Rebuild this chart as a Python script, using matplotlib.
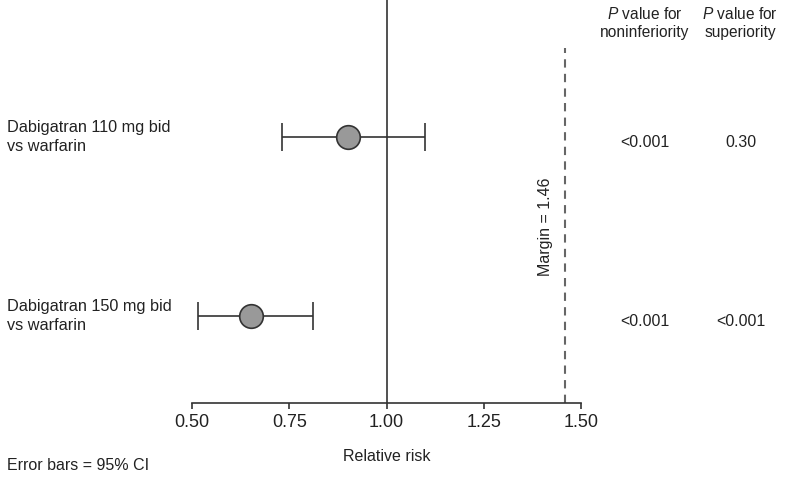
import matplotlib.pyplot as plt
from matplotlib.transforms import blended_transform_factory

plt.rcParams['font.family'] = ['Liberation Sans', 'DejaVu Sans']
plt.rcParams['mathtext.fontset'] = 'custom'
plt.rcParams['mathtext.it'] = 'Liberation Sans:italic'
plt.rcParams['mathtext.rm'] = 'Liberation Sans'
plt.rcParams['text.color'] = '#222222'
plt.rcParams['xtick.color'] = '#222222'
plt.rcParams['axes.labelcolor'] = '#222222'

# Data
labels = ["Dabigatran 110 mg bid\nvs warfarin", "Dabigatran 150 mg bid\nvs warfarin"]
rr = [0.90, 0.65]
ci_low = [0.73, 0.514]
ci_high = [1.10, 0.81]
p_noninf = ["<0.001", "<0.001"]
p_sup = ["0.30", "<0.001"]
margin = 1.46
xticks = [0.50, 0.75, 1.00, 1.25, 1.50]
rows = [2, 1]

W, H = 786, 479
fig = plt.figure(figsize=(W / 100, H / 100), dpi=100)
ax = fig.add_axes([192.3 / W, 1 - 403 / H, (580.7 - 192.3) / W, 403 / H])
ax.set_xlim(0.5, 1.5)
ax.set_ylim(1 - 87 / 179, 1 + 316 / 179)

dark = '#333333'
for y, m, lo, hi in zip(rows, rr, ci_low, ci_high):
    ax.errorbar(m, y, xerr=[[m - lo], [hi - m]], fmt='none', ecolor=dark,
                elinewidth=1.2, capsize=10, capthick=1.2, zorder=2)
    ax.plot(m, y, 'o', ms=17, mfc='#999999', mec=dark, mew=1.2, zorder=3)

ax.axvline(1.0, color=dark, lw=1.2, zorder=1)
ax.plot([margin, margin], [ax.get_ylim()[0], 1 + 268 / 179], color='#666666',
        lw=1.5, dashes=(4, 3))
ax.text(margin - 0.05, 1 + 89 / 179, "Margin = 1.46", rotation=90,
        ha='center', va='center', fontsize=11.5)

for s in ['top', 'right', 'left']:
    ax.spines[s].set_visible(False)
ax.spines['bottom'].set_color(dark)
ax.spines['bottom'].set_linewidth(1.2)
ax.set_yticks([])
ax.set_xticks(xticks)
ax.set_xticklabels([f"{t:.2f}" for t in xticks], fontsize=13)
ax.tick_params(axis='x', length=4, width=1.2, color=dark, pad=4)
ax.set_xlabel("Relative risk", fontsize=11.5, labelpad=13)

trans = blended_transform_factory(fig.transFigure, ax.transData)
col1 = 0.5 + (645 - 192.3) / 388.4
col2 = 0.5 + (741 - 192.3) / 388.4
for y, lab, p1, p2 in zip(rows, labels, p_noninf, p_sup):
    fig.text(7 / W, y, lab, transform=trans, ha='left', va='center',
             fontsize=11.7, linespacing=1.28)
    ax.text(col1, y - 0.03, p1, ha='center', va='center', fontsize=11.5, clip_on=False)
    ax.text(col2, y - 0.03, p2, ha='center', va='center', fontsize=11.5, clip_on=False)

top_y = 1 - 23 / H
fig.text(645 / W, top_y, "$\\it{P}$ value for\nnoninferiority", ha='center',
         va='center', fontsize=11.2, linespacing=1.3)
fig.text(740 / W, top_y, "$\\it{P}$ value for\nsuperiority", ha='center',
         va='center', fontsize=11.2, linespacing=1.3)

fig.text(7 / W, 1 - 466 / H, "Error bars = 95% CI", ha='left', va='center',
         fontsize=11.5)

fig.savefig("out.png", dpi=100)
